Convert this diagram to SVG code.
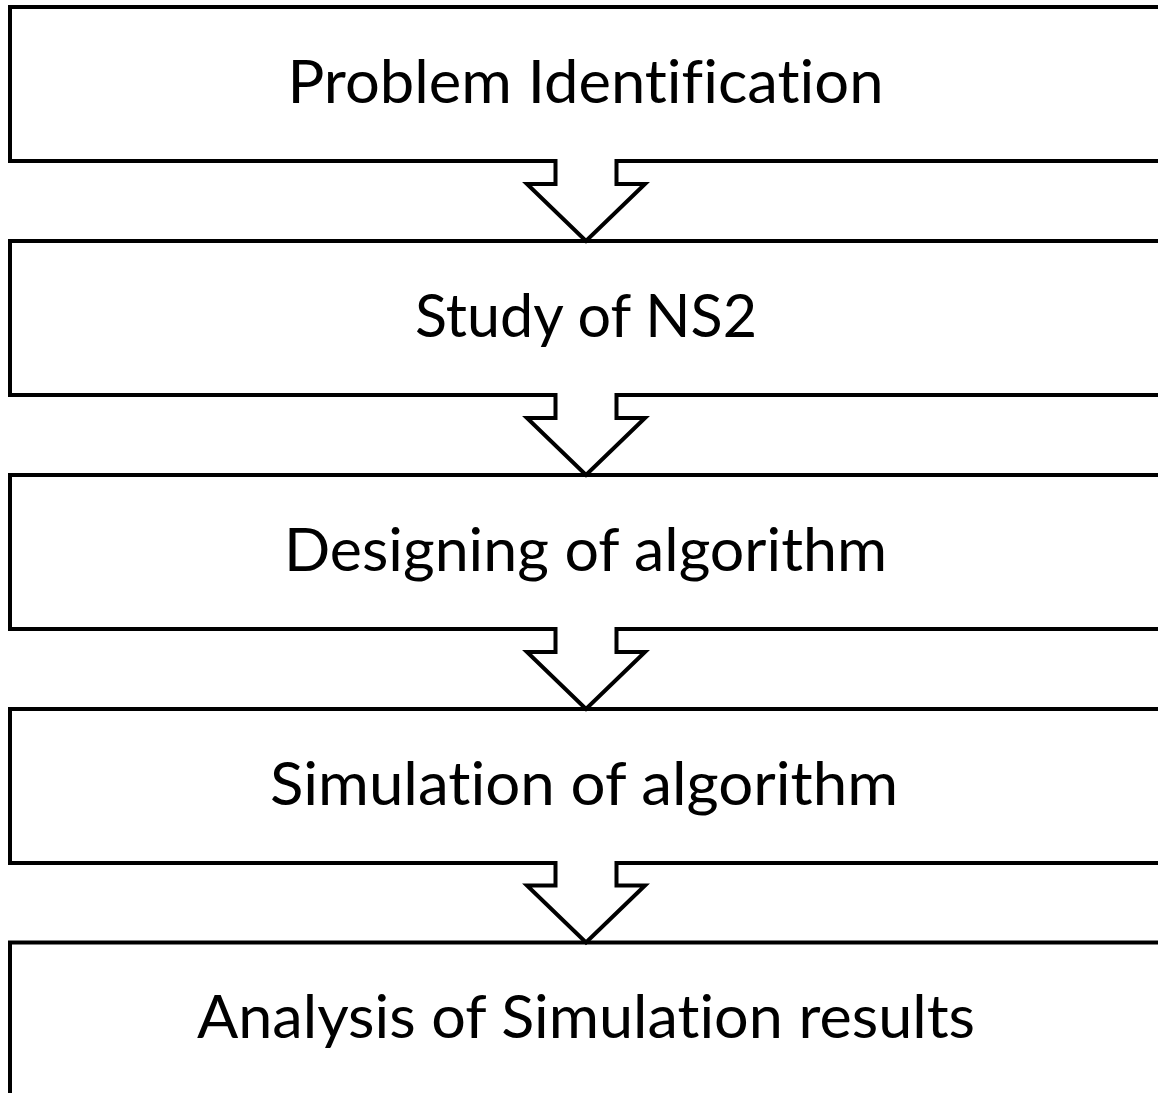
<svg xmlns="http://www.w3.org/2000/svg" width="1158" height="1093" viewBox="0 0 1158 1093">
  <style>
    .box { fill: #ffffff; stroke: #000000; stroke-width: 4; }
    .label { font-family: Lato, "Liberation Sans", sans-serif; font-size: 60px; fill: #000000; text-anchor: middle; font-variant-ligatures: none; font-feature-settings: "liga" 0, "clig" 0; }
    .flow { fill: #ffffff; stroke: #000000; stroke-width: 4; stroke-linejoin: miter; }
  </style>
  <rect width="1158" height="1093" fill="#ffffff"/>

  <g id="step-problem-identification">
    <rect class="box" x="10" y="7" width="1200" height="154"/>
    <text class="label" x="585.5" y="102.5" textLength="596" lengthAdjust="spacingAndGlyphs">Problem Identification</text>
  </g>
  <g id="step-study-ns2">
    <rect class="box" x="10" y="241" width="1200" height="154"/>
    <text class="label" x="586" y="336.5" textLength="342" lengthAdjust="spacingAndGlyphs">Study of NS2</text>
  </g>
  <g id="step-designing">
    <rect class="box" x="10" y="475" width="1200" height="154"/>
    <text class="label" x="585.5" y="570.5" textLength="603" lengthAdjust="spacingAndGlyphs">Designing of algorithm</text>
  </g>
  <g id="step-simulation">
    <rect class="box" x="10" y="709" width="1200" height="154"/>
    <text class="label" x="584" y="804.5" textLength="628" lengthAdjust="spacingAndGlyphs">Simulation of algorithm</text>
  </g>
  <g id="step-analysis">
    <rect class="box" x="10" y="942.5" width="1200" height="154"/>
    <text class="label" x="586" y="1038" textLength="778" lengthAdjust="spacingAndGlyphs">Analysis of Simulation results</text>
  </g>

  <!-- hollow block arrows; open paths so the shaft top merges into the box above -->
  <g id="connectors">
    <path class="flow" d="M555.5,159 V184 H527 L586,241 L645,184 H616.5 V159"/>
    <path class="flow" d="M555.5,393 V418 H527 L586,475 L645,418 H616.5 V393"/>
    <path class="flow" d="M555.5,627 V652 H527 L586,709 L645,652 H616.5 V627"/>
    <path class="flow" d="M555.5,861 V885.5 H527 L586,942.5 L645,885.5 H616.5 V861"/>
  </g>
</svg>
